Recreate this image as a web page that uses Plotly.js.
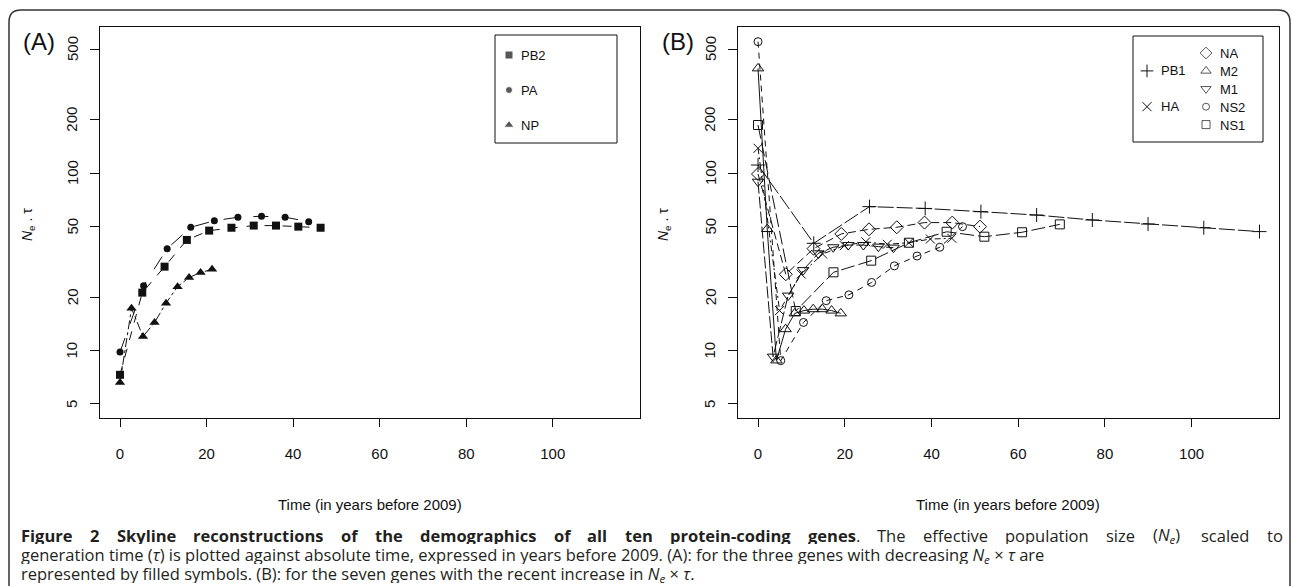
<!DOCTYPE html>
<html><head><meta charset="utf-8">
<script src="https://cdn.plot.ly/plotly-3.0.1.min.js"></script>
<style>html,body{margin:0;padding:0;background:#fff}#chart{width:1292px;height:586px}</style>
</head><body><div id="chart"></div>
<script>
// ---------- Panel A data (filled symbols) ----------
const yearsPB2 = [0, 5.15, 10.3, 15.45, 20.6, 25.75, 30.9, 36.05, 41.2, 46.35];
const valsPB2  = [7.3, 21.2, 29.7, 42.0, 47.4, 49.2, 50.6, 50.6, 49.9, 49.2];
const yearsPA  = [0, 5.45, 10.9, 16.35, 21.8, 27.25, 32.7, 38.15, 43.6];
const valsPA   = [9.8, 23.2, 37.5, 49.5, 53.9, 56.4, 57.1, 56.4, 53.2];
const yearsNP  = [0, 2.66, 5.32, 7.98, 10.64, 13.3, 15.96, 18.62, 21.28];
const valsNP   = [6.6, 17.3, 12.0, 14.4, 18.5, 22.9, 25.8, 27.5, 28.7];

// ---------- Panel B data (open symbols) ----------
const yearsPB1 = [0, 12.85, 25.7, 38.55, 51.4, 64.25, 77.1, 89.95, 102.8, 115.65];
const valsPB1  = [111, 40.2, 64.7, 63.2, 60.6, 58.0, 54.4, 51.6, 49.2, 46.8];
const yearsHA  = [0, 4.97, 9.94, 14.9, 19.9, 24.85, 29.8, 34.8, 39.75, 44.7];
const valsHA   = [138, 16.8, 27, 35.0, 39, 41, 39.7, 40.5, 42.5, 42.9];
const yearsNA  = [0, 6.4, 12.8, 19.2, 25.6, 32.0, 38.4, 44.8, 51.2];
const valsNA   = [98.8, 26.9, 37.5, 45.4, 48.2, 49.5, 52.6, 52.6, 49.9];
const yearsM2  = [0, 2.12, 4.24, 6.36, 8.48, 10.6, 12.72, 14.84, 16.96, 19.08];
const valsM2   = [389, 48.4, 8.8, 13.2, 16.2, 16.8, 17.1, 17.1, 16.8, 16.2];
const yearsM1  = [0, 3.47, 6.94, 10.41, 13.88, 17.35, 20.82, 24.29, 27.76, 31.23];
const valsM1   = [89.4, 9.24, 20.4, 28.4, 35.3, 38.2, 39.3, 39.3, 38.5, 38.0];
const yearsNS2 = [0, 5.24, 10.48, 15.72, 20.96, 26.2, 31.44, 36.68, 41.92, 47.16];
const valsNS2  = [550, 8.77, 14.4, 19.1, 20.6, 24.2, 30.0, 34.1, 38.2, 49.9];
const yearsNS1 = [0, 8.7, 17.4, 26.1, 34.8, 43.5, 52.2, 60.9, 69.6];
const valsNS1  = [186.6, 16.7, 27.6, 32.1, 40.5, 46.7, 43.8, 46.4, 51.4];

// ---------- Ticks & labels ----------
const xTicks = [0, 20, 40, 60, 80, 100];
const yTicks = [5, 10, 20, 50, 100, 200, 500];
const yTickText = yTicks.map(String);
const legendA = ['PB2', 'PA', 'NP'];
const legendAsym = ['square', 'circle', 'triangle-up'];
const legendBcol1 = ['PB1', 'HA'];
const legendBcol1sym = ['cross-thin-open', 'x-thin-open'];
const legendBcol2 = ['NA', 'M2', 'M1', 'NS2', 'NS1'];
const legendBcol2sym = ['diamond-open', 'triangle-up-open', 'triangle-down-open', 'circle-open', 'square-open'];

// caption: line 1 as justified words ([text, bold, noSpaceBefore]); lines 2-3 plain
const captionLine1 = [
  ['Figure', 1], ['2', 1], ['Skyline', 1], ['reconstructions', 1], ['of', 1], ['the', 1],
  ['demographics', 1], ['of', 1], ['all', 1], ['ten', 1], ['protein-coding', 1], ['genes', 1],
  ['.', 0, true], ['The', 0], ['effective', 0], ['population', 0], ['size', 0],
  ['(<i>N<sub>e</sub></i>)', 0], ['scaled', 0], ['to', 0]
];
const captionLine2 = 'generation time (<i>τ</i>) is plotted against absolute time, expressed in years before 2009. (A): for the three genes with decreasing <i>N<sub>e</sub></i> × <i>τ</i> are';
const captionLine3 = 'represented by filled symbols. (B): for the seven genes with the recent increase in <i>N<sub>e</sub></i> × <i>τ</i>.';

const W = 1292, H = 586;
const fx = x => x / W;
const fy = y => 1 - y / H;
const INK = '#111';
const SANS = 'Liberation Sans';

function series(x, y, name, symbol, dash, size, xa, ya, open) {
  return {
    type: 'scatter', mode: 'lines+markers', x: x, y: y, name: name,
    xaxis: xa, yaxis: ya, showlegend: false, hoverinfo: 'skip',
    line: {color: INK, width: 1, dash: dash},
    marker: {symbol: symbol, size: size, color: INK,
             line: {color: INK, width: open ? 1 : 0}}
  };
}

const traces = [
  series(yearsPB2, valsPB2, 'PB2', 'square', 'dash', 8, 'x', 'y', false),
  series(yearsPA, valsPA, 'PA', 'circle', 'longdash', 7, 'x', 'y', false),
  series(yearsNP, valsNP, 'NP', 'triangle-up', 'dashdot', 9, 'x', 'y', false),
  series(yearsPB1, valsPB1, 'PB1', 'cross-thin-open', '16px,3px', 10, 'x2', 'y2', true),
  series(yearsHA, valsHA, 'HA', 'x-thin-open', '6px,3px,2px,3px', 9, 'x2', 'y2', true),
  series(yearsNA, valsNA, 'NA', 'diamond-open', '8px,4px', 10, 'x2', 'y2', true),
  series(yearsM2, valsM2, 'M2', 'triangle-up-open', 'solid', 10, 'x2', 'y2', true),
  series(yearsM1, valsM1, 'M1', 'triangle-down-open', '12px,3px', 10, 'x2', 'y2', true),
  series(yearsNS2, valsNS2, 'NS2', 'circle-open', '6px,5px', 8, 'x2', 'y2', true),
  series(yearsNS1, valsNS1, 'NS1', 'square-open', '14px,4px', 9, 'x2', 'y2', true)
];

// legend marker traces (drawn on dedicated hidden axes)
traces.push({
  type: 'scatter', mode: 'markers', xaxis: 'x3', yaxis: 'y3', showlegend: false, hoverinfo: 'skip',
  x: legendA.map(() => 14), y: legendA.map((_, i) => 20 + 35 * i),
  marker: {symbol: legendAsym, size: [8, 7, 9], color: INK}
});
traces.push({
  type: 'scatter', mode: 'markers', xaxis: 'x4', yaxis: 'y4', showlegend: false, hoverinfo: 'skip',
  x: legendBcol1.map(() => 14), y: legendBcol1.map((_, i) => 17 + 17.9 * (1 + 2 * i)),
  marker: {symbol: legendBcol1sym, size: 9, color: INK, line: {color: INK, width: 1}}
});
traces.push({
  type: 'scatter', mode: 'markers', xaxis: 'x4', yaxis: 'y4', showlegend: false, hoverinfo: 'skip',
  x: legendBcol2.map(() => 73), y: legendBcol2.map((_, i) => 17 + 17.9 * i),
  marker: {symbol: legendBcol2sym, size: [9, 9, 9, 7, 8], color: INK, line: {color: INK, width: 1}}
});

const tickFont = {family: SANS, size: 15, color: INK};
function xAx(d0, d1, anchor) {
  return {domain: [fx(d0), fx(d1)], range: [-4.62, 120.15], anchor: anchor,
    tickvals: xTicks, ticks: 'outside', ticklen: 8, tickcolor: INK, tickwidth: 1,
    showline: true, mirror: true, linecolor: INK, linewidth: 1,
    showgrid: false, zeroline: false, tickfont: tickFont, ticklabelstandoff: 14, fixedrange: true};
}
function yAx(anchor) {
  return {domain: [fy(418), fy(27)], type: 'log', range: [0.620, 2.823], anchor: anchor,
    tickvals: yTicks, showticklabels: false, ticks: 'outside', ticklen: 9,
    tickcolor: INK, tickwidth: 1, showline: true, mirror: true, linecolor: INK, linewidth: 1,
    showgrid: false, zeroline: false, fixedrange: true};
}
const hidden = (d, r, anchor) => ({domain: d, range: r, anchor: anchor, visible: false, fixedrange: true});

const annotations = [];
// rotated y tick labels (R style), positioned on the log axis by value
[['y', 72], ['y2', 710]].forEach(([ya, px]) => {
  yTicks.forEach((v, i) => annotations.push({xref: 'paper', yref: ya, x: fx(px), y: Math.log10(v),
    text: yTickText[i], textangle: -90, showarrow: false, xanchor: 'center', yanchor: 'middle', font: tickFont}));
});

const legFont = {family: SANS, size: 13, color: INK};
legendA.forEach((t, i) => annotations.push({xref: 'x3', yref: 'y3', x: 24, y: 20 + 35 * i, text: t,
  showarrow: false, xanchor: 'left', yanchor: 'middle', font: legFont}));
legendBcol1.forEach((t, i) => annotations.push({xref: 'x4', yref: 'y4', x: 26, y: 17 + 17.9 * (1 + 2 * i), text: t,
  showarrow: false, xanchor: 'left', yanchor: 'middle', font: legFont}));
legendBcol2.forEach((t, i) => annotations.push({xref: 'x4', yref: 'y4', x: 85, y: 17 + 17.9 * i, text: t,
  showarrow: false, xanchor: 'left', yanchor: 'middle', font: legFont, height: 16}));

function paperText(x, y, text, font, extra) {
  return Object.assign({xref: 'paper', yref: 'paper', x: fx(x), y: fy(y), text: text, showarrow: false,
    xanchor: 'center', yanchor: 'middle', font: font}, extra || {});
}
const labFont = {family: SANS, size: 24, color: INK};
annotations.push(paperText(39, 42, '(A)', labFont));
annotations.push(paperText(678, 42, '(B)', labFont));
const ttlFont = {family: SANS, size: 15, color: INK};
annotations.push(paperText(370, 504, 'Time (in years before 2009)', ttlFont));
annotations.push(paperText(1008, 504, 'Time (in years before 2009)', ttlFont));
const yTitle = '<i>N</i><sub>e</sub> . τ';
const yTitleFont = {family: SANS, size: 14, color: INK};
annotations.push(paperText(28, 225, yTitle, yTitleFont, {textangle: -90}));
annotations.push(paperText(664, 225, yTitle, yTitleFont, {textangle: -90}));

// caption, line 1 justified between x=20 and x=1282 using measured word widths
const CAP = 'Open Sans';
const capSize = 16.5;
const capFont = {family: CAP, size: capSize, color: '#231f20'};
const capBox = {xanchor: 'left', height: 18, borderpad: 0};
const ctx = document.createElement('canvas').getContext('2d');
function measure(w) {
  const plain = w[0].replace(/<[^>]+>/g, '');
  ctx.font = (w[1] ? 'bold ' : '') + capSize + 'px "' + CAP + '"';
  return ctx.measureText(plain).width;
}
const widths = captionLine1.map(measure);
const gaps = captionLine1.filter((w, i) => i > 0 && !w[2]).length;
const natural = widths.reduce((a, b) => a + b, 0);
const gap = (1282 - 20 - natural) / gaps;
let cx = 20;
captionLine1.forEach((w, i) => {
  if (i > 0 && !w[2]) cx += gap;
  annotations.push(paperText(cx, 535, w[1] ? '<b>' + w[0] + '</b>' : w[0], capFont, capBox));
  cx += widths[i];
});
annotations.push(paperText(20, 555, captionLine2, capFont, capBox));
annotations.push(paperText(20, 574, captionLine3, capFont, capBox));

const r = 12;
const framePath = 'M ' + fx(9) + ' ' + fy(590) + ' L ' + fx(9) + ' ' + fy(10 + r) +
  ' Q ' + fx(9) + ' ' + fy(10) + ' ' + fx(9 + r) + ' ' + fy(10) +
  ' L ' + fx(1290 - r) + ' ' + fy(10) + ' Q ' + fx(1290) + ' ' + fy(10) + ' ' + fx(1290) + ' ' + fy(10 + r) +
  ' L ' + fx(1290) + ' ' + fy(590);

const shapes = [
  {type: 'rect', xref: 'paper', yref: 'paper', x0: fx(495), x1: fx(617), y0: fy(143), y1: fy(35), line: {color: INK, width: 1}},
  {type: 'rect', xref: 'paper', yref: 'paper', x0: fx(1133), x1: fx(1263), y0: fy(142), y1: fy(36), line: {color: INK, width: 1}},
  {type: 'path', xref: 'paper', yref: 'paper', path: framePath, line: {color: '#333', width: 1.5}}
];

const layout = {
  width: W, height: H, margin: {l: 0, r: 0, t: 0, b: 0},
  paper_bgcolor: '#fff', plot_bgcolor: 'rgba(0,0,0,0)', showlegend: false,
  xaxis: xAx(100, 640, 'y'), yaxis: yAx('x'),
  xaxis2: xAx(738, 1279, 'y2'), yaxis2: yAx('x2'),
  xaxis3: hidden([fx(495), fx(617)], [0, 122], 'y3'), yaxis3: hidden([fy(143), fy(35)], [108, 0], 'x3'),
  xaxis4: hidden([fx(1133), fx(1263)], [0, 130], 'y4'), yaxis4: hidden([fy(142), fy(36)], [106, 0], 'x4'),
  shapes: shapes, annotations: annotations
};

Plotly.newPlot('chart', traces, layout, {displayModeBar: false, staticPlot: true});
</script></body></html>
